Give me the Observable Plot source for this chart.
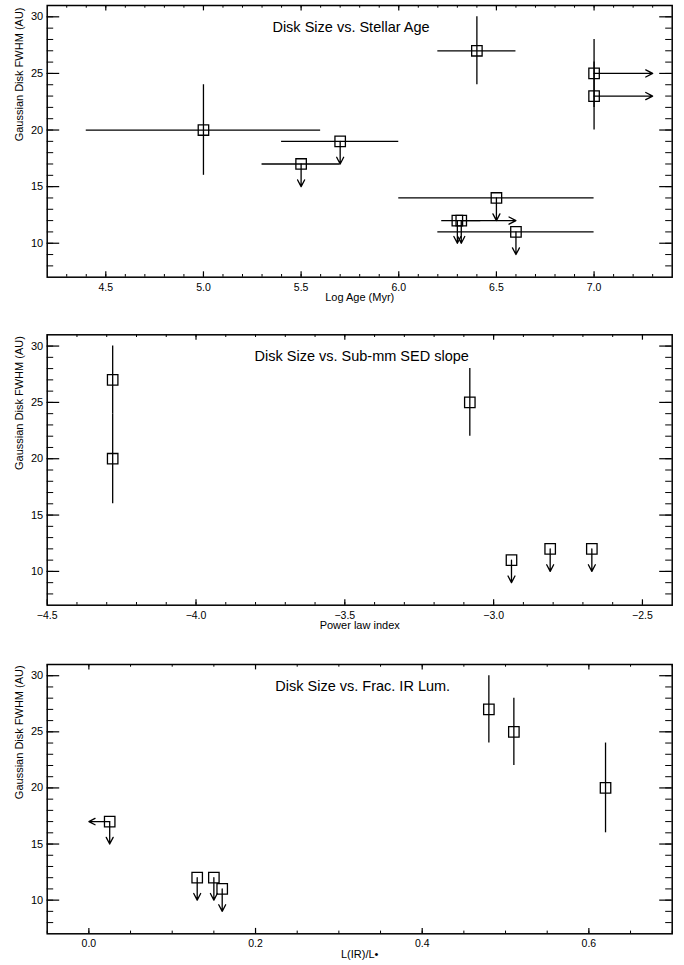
<!DOCTYPE html>
<html>
<head>
<meta charset="utf-8">
<script src="https://cdn.jsdelivr.net/npm/d3@7"></script>
<script src="https://cdn.jsdelivr.net/npm/@observablehq/plot@0.6"></script>
<style>
  body { margin: 0; background: #fff; }
  svg { display: block; }
</style>
</head>
<body>
<div id="chart"></div>
<script>
// ---------- shared ----------
const yLabel = "Gaussian Disk FWHM (AU)";
const yDomain = [7, 31];
const yMajorTicks = [10, 15, 20, 25, 30];
const yMinorTicks = d3.range(8, 31);

// ---------- panel 1: disk size vs. stellar age ----------
const ageTitle = "Disk Size vs. Stellar Age";
const ageXLabel = "Log Age (Myr)";
const ageXDomain = [4.2, 7.4];
const ageXMajorTicks = [4.5, 5.0, 5.5, 6.0, 6.5, 7.0];
const ageXMinorTicks = d3.range(43, 74).map(d => d / 10);
const ageX        = [5.0, 5.7, 5.5, 6.4, 7.0, 7.0, 6.5, 6.30, 6.32, 6.6];
const ageY        = [20, 19, 17, 27, 25, 23, 14, 12, 12, 11];
const ageXLo      = [4.4, 5.4, 5.3, 6.2, null, null, 6.0, 6.22, null, 6.2];
const ageXHi      = [5.6, 6.0, 5.7, 6.6, null, null, 7.0, 6.42, null, 7.0];
const ageYLo      = [16, null, null, 24, 22, 20, null, null, null, null];
const ageYHi      = [24, null, null, 30, 28, 26, null, null, null, null];
const ageYArrowTo = [null, 17, 15, null, null, null, 12, 10, 10, 9];
const ageXArrowTo = [null, null, null, null, 7.3, 7.3, null, null, 6.6, null];

// ---------- panel 2: disk size vs. sub-mm SED slope ----------
const slopeTitle = "Disk Size vs. Sub-mm SED slope";
const slopeXLabel = "Power law index";
const slopeXDomain = [-4.5, -2.4];
const slopeXMajorTicks = [-4.5, -4.0, -3.5, -3.0, -2.5];
const slopeXMinorTicks = d3.range(-44, -24).map(d => d / 10);
const slopeX        = [-4.28, -4.28, -3.08, -2.94, -2.81, -2.67];
const slopeY        = [27, 20, 25, 11, 12, 12];
const slopeXLo      = [null, null, null, null, null, null];
const slopeXHi      = [null, null, null, null, null, null];
const slopeYLo      = [24, 16, 22, null, null, null];
const slopeYHi      = [30, 24, 28, null, null, null];
const slopeYArrowTo = [null, null, null, 9, 10, 10];
const slopeXArrowTo = [null, null, null, null, null, null];

// ---------- panel 3: disk size vs. fractional IR luminosity ----------
const lirTitle = "Disk Size vs. Frac. IR Lum.";
const lirXLabel = "L(IR)/L\u2022";
const lirXDomain = [-0.05, 0.7];
const lirXMajorTicks = [0.0, 0.2, 0.4, 0.6];
const lirXMinorTicks = d3.range(-1, 15).map(d => d * 0.05);
const lirX        = [0.025, 0.13, 0.15, 0.16, 0.48, 0.51, 0.62];
const lirY        = [17, 12, 12, 11, 27, 25, 20];
const lirXLo      = [null, null, null, null, null, null, null];
const lirXHi      = [null, null, null, null, null, null, null];
const lirYLo      = [null, null, null, null, 24, 22, 16];
const lirYHi      = [null, null, null, null, 30, 28, 24];
const lirYArrowTo = [15, 10, 10, 9, null, null, null];
const lirXArrowTo = [0.0, null, null, null, null, null, null];

// ---------- drawing ----------
const WIDTH = 684, ML = 46.7, MR = 12.3;
const FRAME_W = WIDTH - ML - MR;
const FONT = "'Liberation Sans', Arial, Helvetica, sans-serif";
const LW = 1.3;

function panel(cfg) {
  const {xs, ys, xLo, xHi, yLo, yHi, yTo, xTo} = cfg;
  const rows = xs.map((x, i) => ({
    x, y: ys[i], xLo: xLo[i], xHi: xHi[i], yLo: yLo[i], yHi: yHi[i], yTo: yTo[i], xTo: xTo[i]
  }));
  const H = cfg.height - cfg.marginTop - cfg.marginBottom;
  const xMajLen = 5.4, xMinLen = 2.7, yMajLen = 12.5, yMinLen = 6.5;
  return Plot.plot({
    width: WIDTH,
    height: cfg.height,
    marginLeft: ML,
    marginRight: MR,
    marginTop: cfg.marginTop,
    marginBottom: cfg.marginBottom,
    style: {fontFamily: FONT, fontSize: "11px", background: "white", color: "black"},
    x: {domain: cfg.xDomain, axis: null},
    y: {domain: yDomain, axis: null},
    marks: [
      // inward ticks on all four sides
      Plot.tickX(cfg.xMinor, {x: d => d, insetTop: H - xMinLen, stroke: "black", strokeWidth: 1}),
      Plot.tickX(cfg.xMinor, {x: d => d, insetBottom: H - xMinLen, stroke: "black", strokeWidth: 1}),
      Plot.tickX(cfg.xMajor, {x: d => d, insetTop: H - xMajLen, stroke: "black", strokeWidth: 1.2}),
      Plot.tickX(cfg.xMajor, {x: d => d, insetBottom: H - xMajLen, stroke: "black", strokeWidth: 1.2}),
      Plot.tickY(yMinorTicks, {y: d => d, insetRight: FRAME_W - yMinLen, stroke: "black", strokeWidth: 1}),
      Plot.tickY(yMinorTicks, {y: d => d, insetLeft: FRAME_W - yMinLen, stroke: "black", strokeWidth: 1}),
      Plot.tickY(yMajorTicks, {y: d => d, insetRight: FRAME_W - yMajLen, stroke: "black", strokeWidth: 1.2}),
      Plot.tickY(yMajorTicks, {y: d => d, insetLeft: FRAME_W - yMajLen, stroke: "black", strokeWidth: 1.2}),
      Plot.frame({stroke: "black", strokeWidth: 1.5}),
      // tick labels
      Plot.axisX({ticks: cfg.xMajor, tickSize: 0, tickPadding: 6, tickFormat: d3.format(".1f"), label: null, fontSize: 10.5}),
      Plot.axisY({ticks: yMajorTicks, tickSize: 0, tickPadding: 4, tickFormat: d3.format("d"), label: null, fontSize: 11}),
      // error bars
      Plot.ruleY(rows.filter(d => d.xLo != null), {y: "y", x1: "xLo", x2: "xHi", stroke: "black", strokeWidth: LW}),
      Plot.ruleX(rows.filter(d => d.yLo != null), {x: "x", y1: "yLo", y2: "yHi", stroke: "black", strokeWidth: LW}),
      // limit arrows
      Plot.arrow(rows.filter(d => d.yTo != null), {x1: "x", y1: "y", x2: "x", y2: "yTo", stroke: "black", strokeWidth: LW, headLength: 9, headAngle: 55}),
      Plot.arrow(rows.filter(d => d.xTo != null), {x1: "x", y1: "y", x2: "xTo", y2: "y", stroke: "black", strokeWidth: LW, headLength: 9, headAngle: 55}),
      // data squares
      Plot.dot(rows, {x: "x", y: "y", symbol: "square", r: 5.9, stroke: "black", fill: "none", strokeWidth: LW}),
      // texts
      Plot.text([cfg.title], {text: d => d, frameAnchor: "top", dy: 16, dx: cfg.titleDx, fontSize: 14.5, fill: "black"}),
      Plot.text([cfg.xLabel], {text: d => d, frameAnchor: "bottom", dy: 24, fontSize: 11, fill: "black"}),
      Plot.text([yLabel], {text: d => d, frameAnchor: "left", dx: -27.7, rotate: -90, fontSize: 11, fill: "black"})
    ]
  });
}

const chart = document.getElementById("chart");
chart.append(panel({
  title: ageTitle, titleDx: -8.7, xLabel: ageXLabel, xDomain: ageXDomain,
  xMajor: ageXMajorTicks, xMinor: ageXMinorTicks,
  xs: ageX, ys: ageY, xLo: ageXLo, xHi: ageXHi, yLo: ageYLo, yHi: ageYHi, yTo: ageYArrowTo, xTo: ageXArrowTo,
  height: 322, marginTop: 5, marginBottom: 45.3
}));
chart.append(panel({
  title: slopeTitle, titleDx: 2, xLabel: slopeXLabel, xDomain: slopeXDomain,
  xMajor: slopeXMajorTicks, xMinor: slopeXMinorTicks,
  xs: slopeX, ys: slopeY, xLo: slopeXLo, xHi: slopeXHi, yLo: slopeYLo, yHi: slopeYHi, yTo: slopeYArrowTo, xTo: slopeXArrowTo,
  height: 322, marginTop: 12.3, marginBottom: 39.3
}));
chart.append(panel({
  title: lirTitle, titleDx: 3, xLabel: lirXLabel, xDomain: lirXDomain,
  xMajor: lirXMajorTicks, xMinor: lirXMinorTicks,
  xs: lirX, ys: lirY, xLo: lirXLo, xHi: lirXHi, yLo: lirYLo, yHi: lirYHi, yTo: lirYArrowTo, xTo: lirXArrowTo,
  height: 321, marginTop: 20, marginBottom: 31.7
}));
</script>
</body>
</html>
